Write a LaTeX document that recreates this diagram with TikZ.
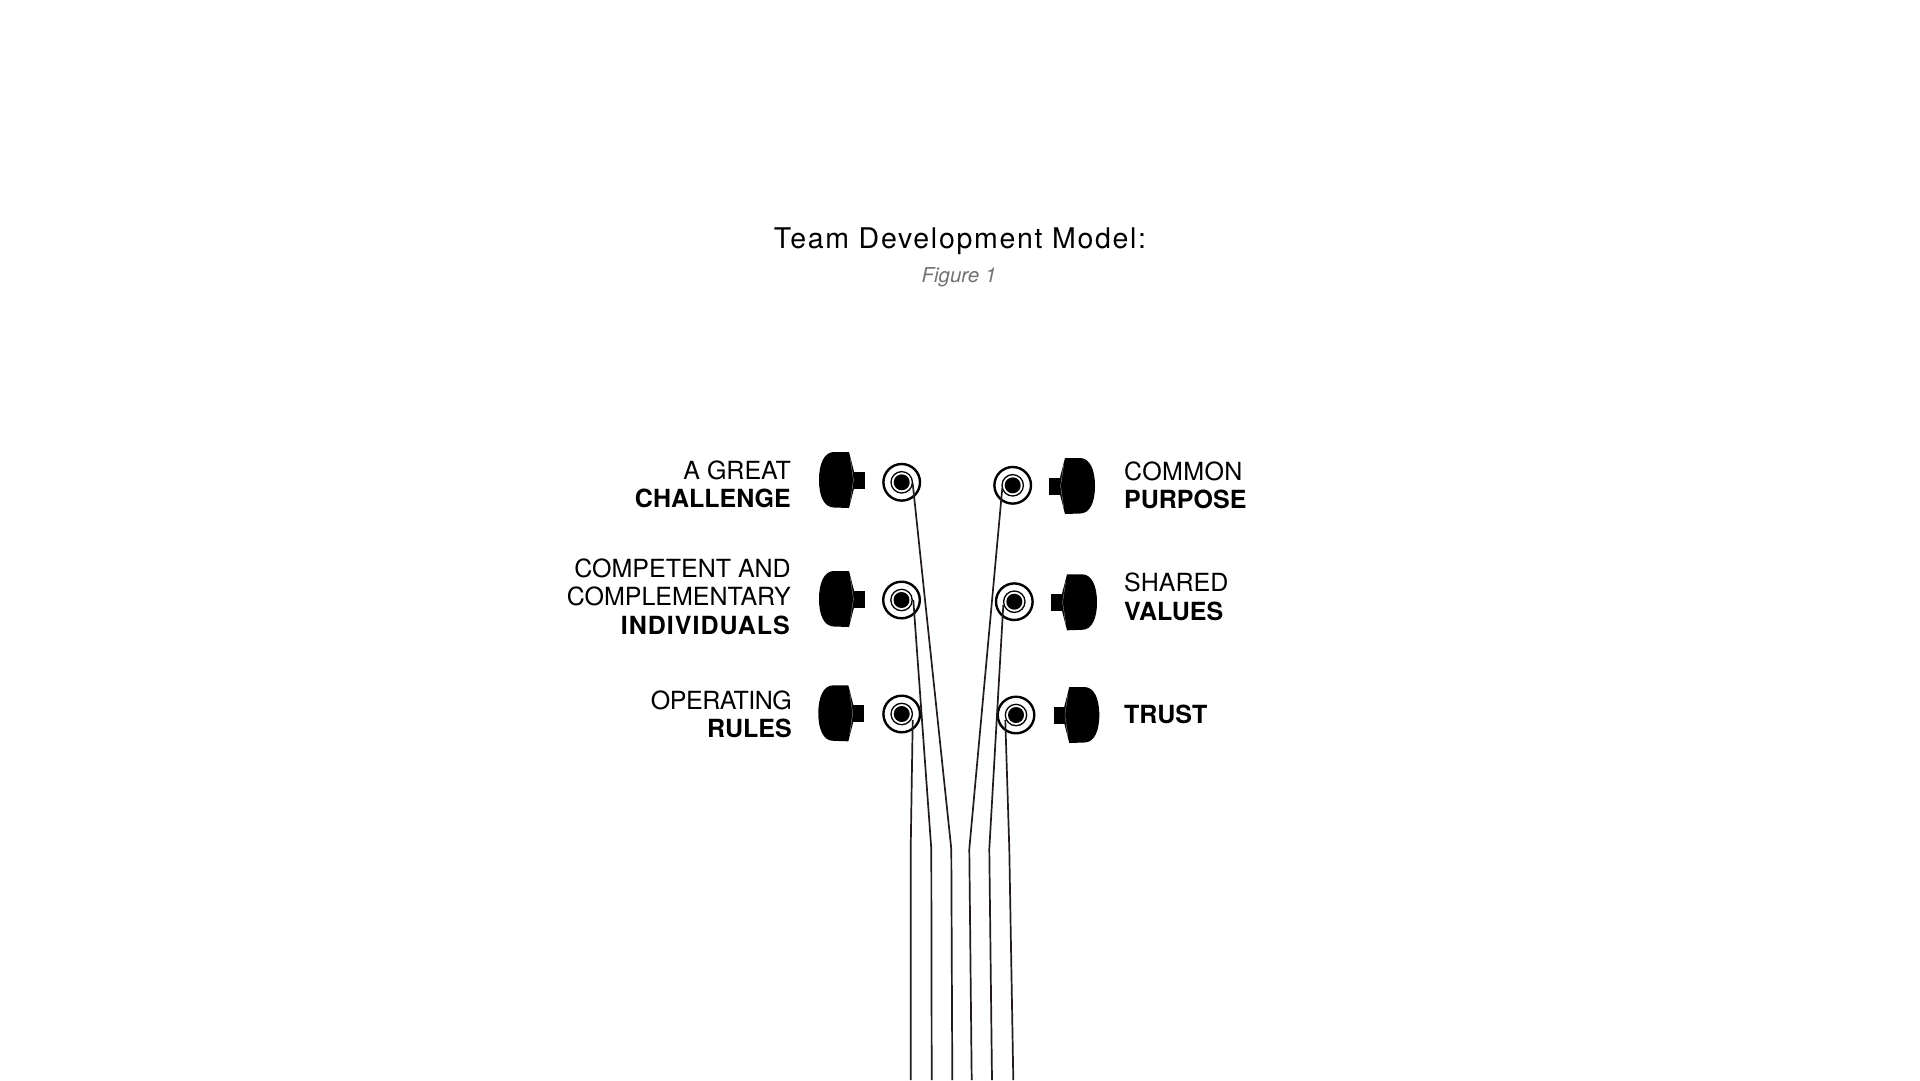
\documentclass[tikz,border=0pt]{standalone}
\usepackage{fontspec}
\setmainfont{TeX Gyre Heros}
\usetikzlibrary{calc}
\definecolor{stringink}{HTML}{231B1B}
\tikzset{
  pics/tuner/.style={
    code={
      \fill[black] (-6,-8.5) rectangle (10.7,8.5);
      \fill[black] (-5,-28) -- (-20,-28) .. controls (-30,-28) and (-35,-16) .. (-35,0)
        .. controls (-35,16) and (-30,27.5) .. (-20,27.5) -- (-5,28) -- (0,8.5) -- (0,-8.5) -- cycle;
      \draw[black!30,line width=.3pt] (-3.6,-21) -- (-.6,0) -- (-3.6,21);
    }
  },
  pegouter/.style={circle,draw=black,line width=2.4pt,minimum size=36.6pt,inner sep=0pt,fill=white},
  pegmiddle/.style={circle,draw=black,line width=1.3pt,minimum size=21.4pt,inner sep=0pt},
  pegcore/.style={circle,fill=black,minimum size=16pt,inner sep=0pt},
  stringline/.style={draw=stringink,line width=1.7pt,line join=round},
  leftlabel/.style={anchor=base east,align=right,inner sep=0pt,font=\fontsize{25}{28.2}\selectfont},
  rightlabel/.style={anchor=base west,align=left,inner sep=0pt,font=\fontsize{25}{28.2}\selectfont}
}

\begin{document}
\begin{tikzpicture}[x=1pt,y=-1pt]
  \path[use as bounding box,fill=white] (0,0) rectangle (1920,1080);
  \node[anchor=base,inner sep=0pt,font=\fontsize{28.5}{32}\selectfont\addfontfeature{LetterSpace=5.9}] (title) at (960,248) {Team Development Model:};
  \node[anchor=base,inner sep=0pt,text=black!55,font=\fontsize{20.5}{24}\selectfont\itshape] (figure) at (959,282) {Figure 1};

  % tuners, left then right
  \foreach \n/\x/\y in {La/854/480,Lb/854/599,Lc/853.3/713.3}
    \pic (knob\n) at (\x,\y) {tuner};
  \foreach \n/\x/\y in {Ra/1060/486,Rb/1062/602.3,Rc/1064.3/715}
    \pic[xscale=-1] (knob\n) at (\x,\y) {tuner};

  % pegs
  \foreach \n/\x/\y in {La/901.7/482.3,Lb/901.5/600,Lc/901.7/714,Ra/1012.7/485.3,Rb/1014.3/601.7,Rc/1016/715}{
    \node[pegouter] (peg\n) at (\x,\y) {};
    \node[pegmiddle] (ring\n) at (peg\n) {};
    \node[pegcore] (core\n) at (peg\n) {};
  }

  % strings
  \foreach \n/\dx/\dy/\bx/\fx in {Lc/11/6/910.7/910.7,Lb/11.8/0/931.3/931.7,La/11/1/951.3/952.3,
      Ra/-10.4/2.7/969.3/971.7,Rb/-11/3.3/989.3/992,Rc/-10.7/5/1009.3/1013.3}{
    \coordinate (tie\n) at ($(peg\n)+(\dx,\dy)$);
    \coordinate (bend\n) at (\bx,849);
    \coordinate (foot\n) at (\fx,1080);
    \draw[stringline] (tie\n) -- (bend\n) -- (foot\n);
  }

  % labels
  \node[leftlabel] (challenge) at (791,507.3) {A GREAT\\\textbf{CHALLENGE}};
  \node[leftlabel] (individuals) at (791,634) {COMPETENT AND\\COMPLEMENTARY\\\textbf{\addfontfeature{LetterSpace=4}INDIVIDUALS}};
  \node[leftlabel] (rules) at (792,737.3) {{\addfontfeature{LetterSpace=-2}OPERATING}\\\textbf{RULES}};
  \node[rightlabel] (purpose) at (1124,508.7) {{\addfontfeature{LetterSpace=1.5}COMMON}\\\textbf{PURPOSE}};
  \node[rightlabel] (values) at (1124,620) {SHARED\\\textbf{VALUES}};
  \node[rightlabel] (trust) at (1124,723.3) {\textbf{TRUST}};
\end{tikzpicture}
\end{document}
